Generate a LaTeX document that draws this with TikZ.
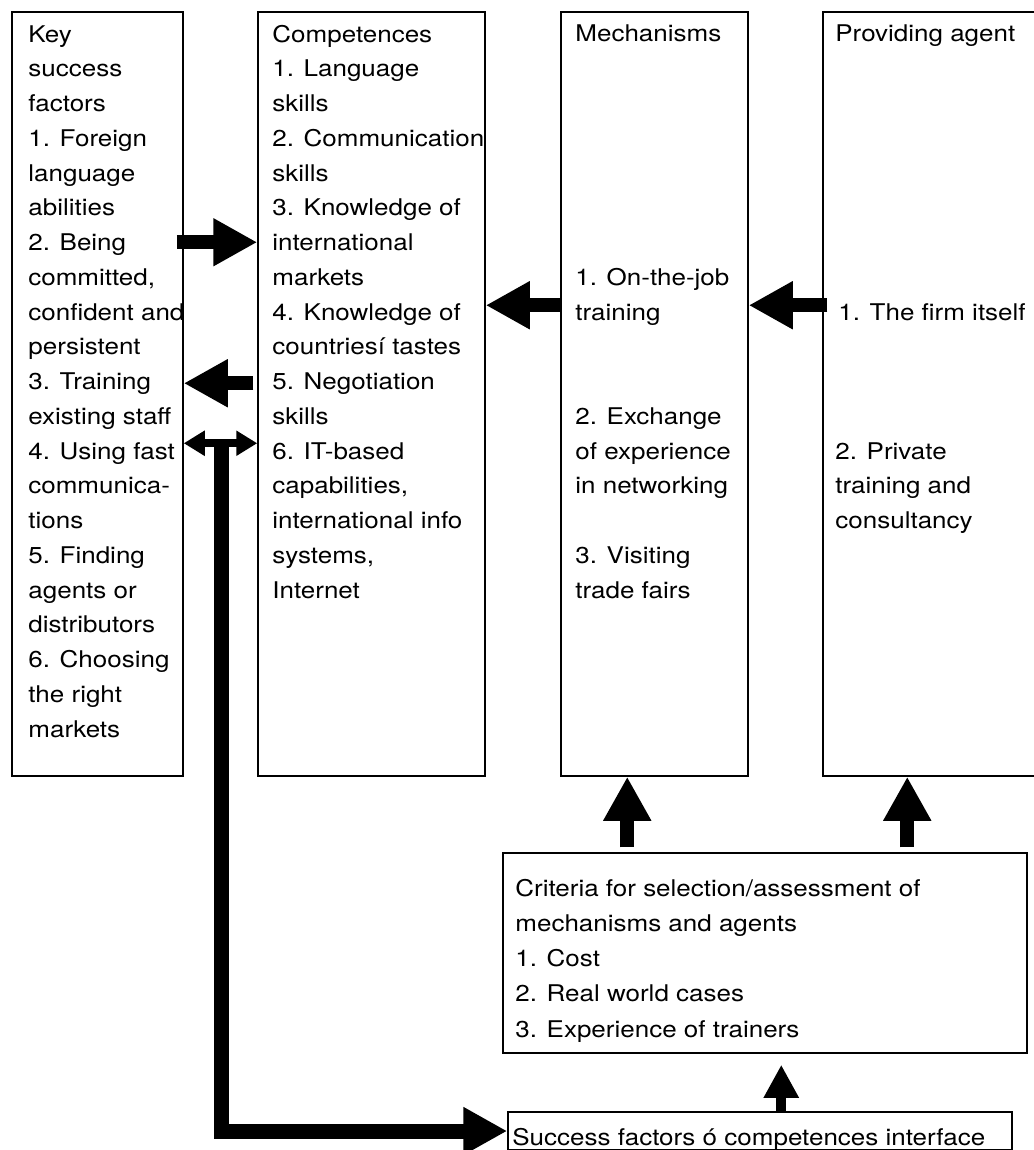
\documentclass[tikz,border=0pt]{standalone}
\usepackage{fontspec}
\setmainfont{TeX Gyre Heros}[FakeStretch=1.13]
\usetikzlibrary{arrows.meta}
\usetikzlibrary{fit}

\begin{document}
\begin{tikzpicture}[x=0.5pt,y=0.5pt,yscale=-1,xscale=1,
  box/.style={draw,line width=0.75pt,inner sep=0pt},
  txt/.style={anchor=base west,inner sep=0pt,align=left,font=\fontsize{11.5pt}{17.375pt}\selectfont},
  fat/.style={line width=7pt,-{Triangle[length=22pt,width=22.5pt]}},
  twohead/.style={line width=4pt,{Triangle[length=10.5pt,width=12pt]}-{Triangle[length=10.5pt,width=12pt]}},
  small/.style={line width=5pt,-{Triangle[length=16.5pt,width=16.5pt]}}]
\useasboundingbox (0,0) rectangle (1033,1150);

%Boxes
\node[box,fit={(12,12) (183,776)}] (kf) {};
\node[box,fit={(258,12) (485,776)}] (comp) {};
\node[box,fit={(561,12) (748,776)}] (mech) {};
\node[box,fit={(823,12) (1045,776)}] (agent) {};
\node[box,fit={(503,853) (1027,1053)}] (crit) {};
\node[box,fit={(508,1112) (1012,1150)}] (iface) {};

% Text Node (placed at the baseline of its last line)
\node[txt] (kftxt) at (28,737) {Key\\success\\factors\\1. Foreign\\language\\abilities\\2. Being\\committed,\\confident and\\persistent\\3. Training\\existing staff\\4. Using fast\\communica-\\tions\\5. Finding\\agents or\\distributors\\6. Choosing\\the right\\markets};
% Text Node
\node[txt] (comptxt) at (272,598) {Competences\\1. Language\\skills\\2. Communication\\skills\\3. Knowledge of\\international\\markets\\4. Knowledge of\\countriesí tastes\\5. Negotiation\\skills\\6. IT-based\\capabilities,\\international info\\systems,\\Internet};
% Text Node
\node[txt] (mechtxt) at (575,42) {Mechanisms};
\node[txt] (mech1) at (575,320) {1. On-the-job\\training};
\node[txt] (mech2) at (575,493.75) {2. Exchange\\of experience\\in networking};
\node[txt] (mech3) at (575,598) {3. Visiting\\trade fairs};
% Text Node
\node[txt] (agenttxt) at (835,42) {Providing agent};
\node[txt] (agent1) at (838,320) {1. The firm itself};
\node[txt] (agent2) at (835,528.5) {2. Private\\training and\\consultancy};
% Text Node
\node[txt,font=\fontsize{11.5pt}{17.625pt}\selectfont] (crittxt) at (515,1037) {Criteria for selection/assessment of\\mechanisms and agents\\1. Cost\\2. Real world cases\\3. Experience of trainers};
% Text Node
\node[txt] (ifacetxt) at (512,1145) {Success factors ó competences interface};

%Arrows between the columns
\draw[fat] ([shift={(-7,231)}]kf.north east) -- ([shift={(0,231)}]comp.north west);
\draw[fat] ([shift={(-4,372)}]comp.north west) -- ([shift={(0,372)}]kf.north east);
\draw[twohead] ([shift={(0,432)}]kf.north east) -- ([shift={(0,432)}]comp.north west);
\draw[fat] ([shift={(0,294)}]mech.north west) -- ([shift={(0,294)}]comp.north east);
\draw[fat] ([shift={(5,294)}]agent.north west) -- ([shift={(0,294)}]mech.north east);

%Long elbow to the interface box
\path ([shift={(37.5,432)}]kf.north east) coordinate (fork);
\draw[fat,line width=7.5pt] (fork) |- (iface.west);

%Upward arrows
\path ([shift={(125,0)}]crit.north west) coordinate (up1);
\path ([shift={(405,0)}]crit.north west) coordinate (up2);
\path ([shift={(274,0)}]iface.north west) coordinate (up3);
\draw[fat,shorten <=2.5pt] (up1) -- (up1 |- mech.south);
\draw[fat,shorten <=2.5pt] (up2) -- (up2 |- agent.south);
\draw[small,shorten >=5.5pt] (up3) -- (up3 |- crit.south);

\end{tikzpicture}
\end{document}
